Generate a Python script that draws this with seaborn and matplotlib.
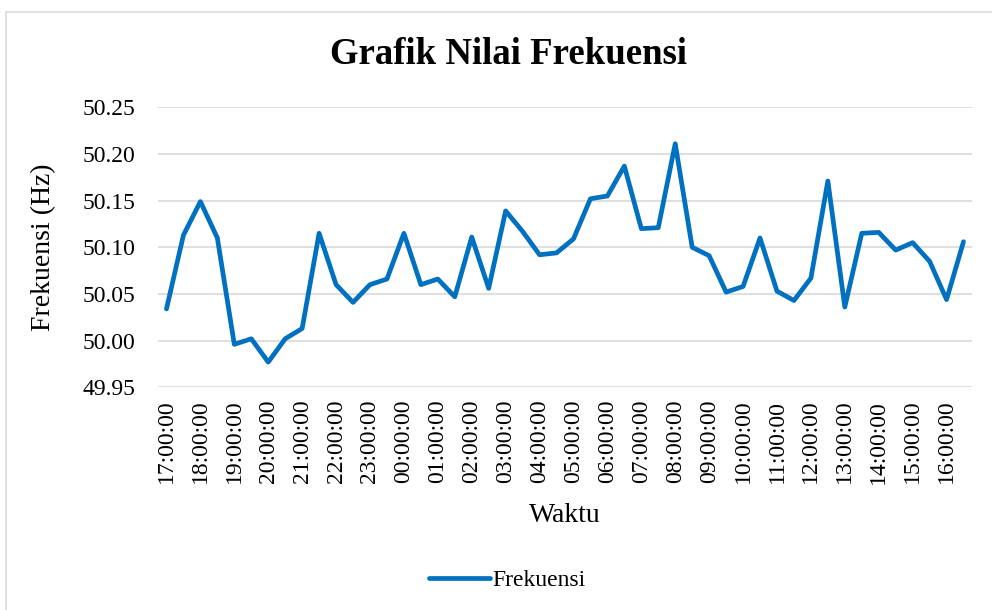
import pandas as pd
import matplotlib
matplotlib.use("Agg")
import matplotlib.pyplot as plt
import seaborn as sns
from matplotlib.patches import Rectangle

# half-hourly readings, 17:00 to 16:30
waktu = [
    "17:00:00", "17:30:00", "18:00:00", "18:30:00", "19:00:00", "19:30:00",
    "20:00:00", "20:30:00", "21:00:00", "21:30:00", "22:00:00", "22:30:00",
    "23:00:00", "23:30:00", "00:00:00", "00:30:00", "01:00:00", "01:30:00",
    "02:00:00", "02:30:00", "03:00:00", "03:30:00", "04:00:00", "04:30:00",
    "05:00:00", "05:30:00", "06:00:00", "06:30:00", "07:00:00", "07:30:00",
    "08:00:00", "08:30:00", "09:00:00", "09:30:00", "10:00:00", "10:30:00",
    "11:00:00", "11:30:00", "12:00:00", "12:30:00", "13:00:00", "13:30:00",
    "14:00:00", "14:30:00", "15:00:00", "15:30:00", "16:00:00", "16:30:00",
]
frekuensi = [
    50.034, 50.113, 50.149, 50.110, 49.996, 50.002, 49.977, 50.002,
    50.013, 50.115, 50.060, 50.041, 50.060, 50.066, 50.115, 50.060,
    50.066, 50.047, 50.111, 50.056, 50.139, 50.117, 50.092, 50.094,
    50.109, 50.152, 50.155, 50.187, 50.120, 50.121, 50.211, 50.100,
    50.091, 50.052, 50.058, 50.110, 50.053, 50.043, 50.067, 50.171,
    50.036, 50.115, 50.116, 50.097, 50.105, 50.085, 50.044, 50.106,
]
y_ticks = [49.95, 50.00, 50.05, 50.10, 50.15, 50.20, 50.25]

df = pd.DataFrame({"Waktu": waktu, "Frekuensi": frekuensi})

sns.set_style("white")
plt.rcParams["font.family"] = ["Liberation Serif", "DejaVu Serif"]
plt.rcParams["text.color"] = "black"
plt.rcParams["axes.labelcolor"] = "black"

fig = plt.figure(figsize=(9.92, 6.10), dpi=100)
fig.patches.append(Rectangle((6 / 992, -0.1), 1.2, 1 - 12 / 610 + 0.1,
                             transform=fig.transFigure, fill=False,
                             edgecolor="#D9D9D9", linewidth=1.2))
ax = fig.add_axes([158 / 992, 1 - 387.3 / 610, (972 - 158) / 992, (387.3 - 107.3) / 610])

sns.lineplot(data=df, x="Waktu", y="Frekuensi", sort=False, ax=ax,
             color="#0070C0", linewidth=3.4, label="Frekuensi")

ax.set_xlim(-0.5, len(waktu) - 0.5)
ax.set_ylim(49.95, 50.25)
ax.set_yticks(y_ticks)
ax.set_yticklabels([f"{v:.2f}" for v in y_ticks])
ax.set_xticks(range(0, len(waktu), 2))
ax.set_xticklabels(waktu[::2], rotation=90)
ax.tick_params(axis="both", length=0, labelsize=17, colors="black")
ax.tick_params(axis="x", pad=9)
ax.tick_params(axis="y", pad=16)
ax.grid(axis="y", color="#D9D9D9", linewidth=1.2)
ax.set_axisbelow(True)
for s in ax.spines.values():
    s.set_visible(False)

ax.set_xlabel("Waktu", fontsize=20, labelpad=14)
ax.set_ylabel("Frekuensi (Hz)", fontsize=20, labelpad=19)
fig.suptitle("Grafik Nilai Frekuensi", x=508 / 992, y=1 - 54 / 610, va="center",
             fontsize=26.5, fontweight="bold", color="black")

ax.legend_.remove()
fig.legend(*ax.get_legend_handles_labels(), loc="center",
           bbox_to_anchor=(507 / 992, 1 - 580 / 610), frameon=False, fontsize=17,
           handlelength=2.6, handletextpad=0.1)

fig.savefig("out.png", dpi=100)
